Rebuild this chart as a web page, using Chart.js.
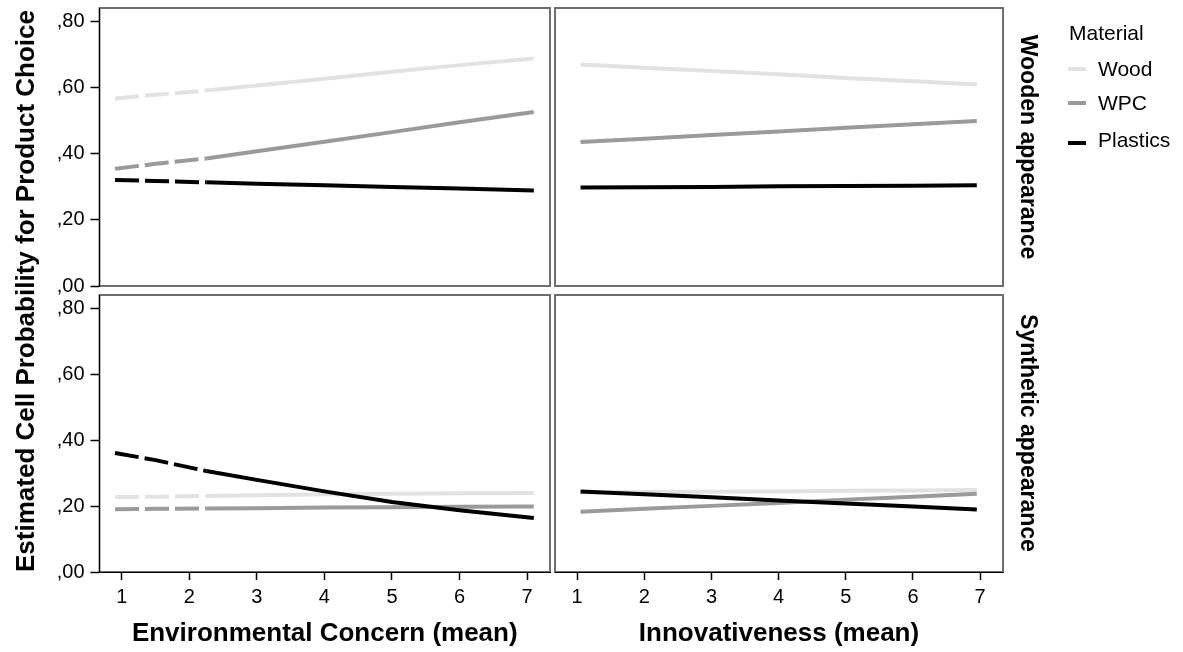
<!DOCTYPE html>
<html>
<head>
<meta charset="utf-8">
<title>Estimated Cell Probability for Product Choice</title>
<script src="https://cdn.jsdelivr.net/npm/chart.js@4.4.1/dist/chart.umd.min.js"></script>
<style>
  html, body { margin: 0; padding: 0; background: #fff; }
  #wrap { position: relative; width: 1183px; height: 652px; overflow: hidden;
          font-family: "Liberation Sans", Arial, sans-serif; color: #000; }
  #wrap canvas { position: absolute; left: 0; top: 0; }
  .rot { position: absolute; white-space: nowrap; font-weight: bold; line-height: 1; }
  #yTitle { left: 25px; top: 291px; font-size: 26px; transform: translate(-50%, -50%) rotate(-90deg); }
  .strip { left: 1028px; font-size: 23px; transform: translate(-50%, -50%) rotate(90deg); }
  #stripTop { top: 147px; }
  #stripBottom { top: 433px; }
  #legend { position: absolute; left: 1068px; top: 22px; font-size: 21px; line-height: 1; }
  #legend .head { position: absolute; left: 1px; top: 0; white-space: nowrap; }
  #legend .item { position: absolute; left: 0; white-space: nowrap; }
  #legend .sw { position: absolute; left: 0; width: 18px; height: 4px; }
  #legend .lab { position: absolute; left: 30px; }
</style>
</head>
<body>
<div id="wrap">
  <canvas id="tl" width="1183" height="652"></canvas>
  <canvas id="tr" width="1183" height="652"></canvas>
  <canvas id="bl" width="1183" height="652"></canvas>
  <canvas id="br" width="1183" height="652"></canvas>
  <div class="rot" id="yTitle">Estimated Cell Probability for Product Choice</div>
  <div class="rot strip" id="stripTop">Wooden appearance</div>
  <div class="rot strip" id="stripBottom">Synthetic appearance</div>
  <div id="legend"></div>
</div>
<script>
// Materials and their line colours
const materials = ['Wood', 'WPC', 'Plastics'];
const materialColors = ['#e2e2e2', '#9a9a9a', '#000000'];

// x values where the curves were read
const envX = [0.9, 1.5, 2.25, 3, 4, 5, 6, 7.1];     // Environmental Concern (mean)
const innovX = [1.05, 2, 3, 4, 5, 6, 6.95];         // Innovativeness (mean)

// Wooden appearance
const woodenEnvWood = [0.568, 0.579, 0.592, 0.607, 0.628, 0.649, 0.669, 0.689];
const woodenEnvWPC = [0.355, 0.370, 0.386, 0.408, 0.437, 0.466, 0.496, 0.527];
const woodenEnvPlastics = [0.321, 0.318, 0.314, 0.310, 0.305, 0.300, 0.295, 0.289];
const woodenInnWood = [0.671, 0.661, 0.651, 0.641, 0.630, 0.620, 0.610];
const woodenInnWPC = [0.436, 0.446, 0.457, 0.468, 0.479, 0.490, 0.500];
const woodenInnPlastics = [0.298, 0.299, 0.300, 0.302, 0.303, 0.304, 0.305];

// Synthetic appearance
const synthEnvWood = [0.228, 0.229, 0.231, 0.233, 0.236, 0.238, 0.239, 0.240];
const synthEnvWPC = [0.191, 0.192, 0.193, 0.194, 0.196, 0.197, 0.198, 0.199];
const synthEnvPlastics = [0.362, 0.340, 0.307, 0.280, 0.245, 0.213, 0.188, 0.164];
const synthInnWood = [0.242, 0.243, 0.244, 0.245, 0.247, 0.248, 0.249];
const synthInnWPC = [0.183, 0.192, 0.201, 0.210, 0.220, 0.229, 0.238];
const synthInnPlastics = [0.245, 0.236, 0.227, 0.217, 0.208, 0.199, 0.190];

// Axes
const xTicks = [1, 2, 3, 4, 5, 6, 7];
const xTickLabels = ['1', '2', '3', '4', '5', '6', '7'];
const yTicks = [0, 0.2, 0.4, 0.6, 0.8];
const yTickLabels = [',00', ',20', ',40', ',60', ',80'];
const xMin = 0.67, xMax = 7.34, yMax = 0.842;
const dashedUpTo = 2.25; // left panels are dashed from the start up to here

const FONT = '"Liberation Sans", Arial, sans-serif';

// grey frame around each panel
const framePlugin = {
    id: 'frame',
    beforeDraw(chart) {
        const { ctx, chartArea: a } = chart;
        ctx.save();
        ctx.strokeStyle = '#6e6e6e';
        ctx.lineWidth = 2;
        ctx.strokeRect(a.left, a.top, a.right - a.left, a.bottom - a.top);
        ctx.restore();
    }
};

function makeDatasets(xs, seriesList, dashed) {
    return seriesList.map((vals, i) => ({
        label: materials[i],
        data: vals.map((v, j) => ({ x: xs[j], y: v })),
        borderColor: materialColors[i],
        borderWidth: 4,
        borderCapStyle: 'butt',
        pointRadius: 0,
        tension: 0,
        order: 3 - i,
        segment: {
            borderDash: c => (dashed && c.p1.parsed.x <= dashedUpTo + 1e-9) ? [24, 6] : undefined
        }
    }));
}

function makePanel(id, padding, xs, seriesList, opt) {
    const xScale = {
        type: 'linear', min: xMin, max: xMax,
        display: !!opt.xTitle,
        afterBuildTicks: s => { s.ticks = xTicks.map(v => ({ value: v })); },
        afterFit: s => {
            s.height = opt.xTitle ? 75 : 0;
            s.paddingLeft = s.paddingRight = 0;
        },
        grid: { drawOnChartArea: false, tickLength: 8, tickColor: '#000', tickWidth: 1.5 },
        border: { color: '#000', width: 1 },
        ticks: {
            callback: v => xTickLabels[xTicks.indexOf(v)],
            font: { family: FONT, size: 20 }, color: '#000', padding: 5,
            maxRotation: 0, autoSkip: false
        },
        title: {
            display: !!opt.xTitle, text: opt.xTitle || '',
            font: { family: FONT, size: 26, weight: 'bold', lineHeight: 1 },
            color: '#000', padding: 0
        }
    };
    const yScale = {
        type: 'linear', min: 0, max: yMax,
        display: !!opt.showY,
        afterBuildTicks: s => { s.ticks = yTicks.map(v => ({ value: v })); },
        afterFit: s => {
            s.width = opt.showY ? 60 : 0;
            s.paddingTop = s.paddingBottom = 0;
        },
        grid: { drawOnChartArea: false, tickLength: 9, tickColor: '#000', tickWidth: 1.5 },
        border: { color: '#000', width: 1 },
        ticks: {
            callback: v => yTickLabels[yTicks.indexOf(v)],
            font: { family: FONT, size: 20 }, color: '#000', padding: 6
        }
    };
    return new Chart(document.getElementById(id), {
        type: 'line',
        data: { datasets: makeDatasets(xs, seriesList, opt.dashed) },
        options: {
            responsive: false,
            animation: false,
            events: [],
            layout: { padding },
            scales: { x: xScale, y: yScale },
            plugins: { legend: { display: false }, tooltip: { enabled: false } }
        },
        plugins: [framePlugin]
    });
}

makePanel('tl', { left: 39.5, top: 8, right: 633, bottom: 366 }, envX,
    [woodenEnvWood, woodenEnvWPC, woodenEnvPlastics], { showY: true, dashed: true });
makePanel('tr', { left: 555, top: 8, right: 180, bottom: 366 }, innovX,
    [woodenInnWood, woodenInnWPC, woodenInnPlastics], {});
makePanel('bl', { left: 39.5, top: 295, right: 633, bottom: 5 }, envX,
    [synthEnvWood, synthEnvWPC, synthEnvPlastics],
    { showY: true, dashed: true, xTitle: 'Environmental Concern (mean)' });
makePanel('br', { left: 555, top: 295, right: 180, bottom: 5 }, innovX,
    [synthInnWood, synthInnWPC, synthInnPlastics],
    { xTitle: 'Innovativeness (mean)' });

// legend
const legend = document.getElementById('legend');
legend.innerHTML = '<div class="head">Material</div>';
const itemTops = [36, 70, 107];
materials.forEach((m, i) => {
    const item = document.createElement('div');
    item.className = 'item';
    item.style.top = itemTops[i] + 'px';
    item.innerHTML = '<div class="sw" style="top:' + (i === 2 ? 12 : 9) + 'px;background:' +
        materialColors[i] + '"></div><div class="lab">' + m + '</div>';
    legend.appendChild(item);
});
</script>
</body>
</html>
